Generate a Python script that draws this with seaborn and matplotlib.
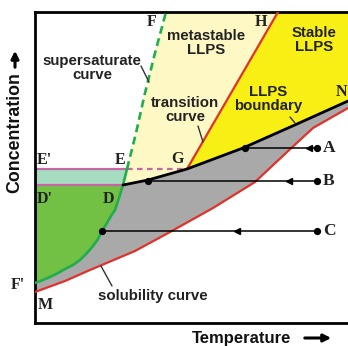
import numpy as np
import pandas as pd
import matplotlib
matplotlib.use("Agg")
import matplotlib.pyplot as plt
from matplotlib import font_manager
import seaborn as sns

# ---------------- data (T = temperature, C = concentration) -------------
green_T = [0, 8, 15, 23, 30, 38, 45, 52, 58, 63, 67, 72, 76, 80, 84, 88, 92]   # supersaturate curve (solid)
green_C = [40, 43, 46, 50, 54, 58, 63, 70, 77, 84, 92, 100, 107, 113, 125, 138, 154]
dash_T = [92, 101, 110, 120, 131]                              # supersaturate curve (dashed, E -> F)
dash_C = [154, 190, 230, 270, 311]
sol_T = [0, 30, 55, 100, 135, 178, 220, 252, 278, 313]        # solubility curve (M -> right)
sol_C = [31, 42, 53, 72, 91, 115, 141, 171, 195, 215]
bound_T = [88, 113, 152, 208, 262, 313]                        # LLPS boundary (D -> G -> N)
bound_C = [138, 143, 154, 175, 199, 222]
trans_T = [152, 243]                                           # transition curve (G -> H)
trans_C = [154, 311]
E_level = 154
D_level = 138
path_names = ["A", "B", "C"]
path_C = [175, 142, 92]
path_start_T = [210, 113, 67]
path_end_T = [282, 282, 282]
path_arrow_T = [274, 254, 202]
T_max, C_max = 313, 311

# ---------------- style -------------
sns.set_style("white")
names = {f.name for f in font_manager.fontManager.ttflist}
if "Liberation Sans Narrow" in names:
    SANS = ["Liberation Sans Narrow", "Liberation Sans", "DejaVu Sans"]
    lab_fs, ax_fs = 13.0, 14.5
else:
    SANS = ["Liberation Sans", "DejaVu Sans"]
    lab_fs, ax_fs = 10.8, 12.0
SERIF = ["Liberation Serif", "DejaVu Serif"]
plt.rcParams["font.family"] = SANS

RED = "#e0312a"
GREEN_LINE = "#1fae4b"
PINK = "#c766a4"
PALE_Y = "#fdf8c4"
BRIGHT_Y = "#f8ef14"
GREY = "#a9a9a9"
GREEN_FILL = "#72c044"
MINT = "#a6dcc0"

fig = plt.figure(figsize=(3.48, 3.46), dpi=100)
ax = fig.add_axes([35 / 348, 23 / 346, 313 / 348, 311 / 346])
ax.set_xlim(0, T_max)
ax.set_ylim(0, C_max)
ax.set_xticks([])
ax.set_yticks([])
for s in ["left", "top", "bottom"]:
    ax.spines[s].set_linewidth(2.0)
    ax.spines[s].set_color("black")
ax.spines["right"].set_visible(False)

gT, gC = np.array(green_T), np.array(green_C)
dT, dC = np.array(dash_T), np.array(dash_C)
sT, sC = np.array(sol_T), np.array(sol_C)
bT, bC = np.array(bound_T), np.array(bound_C)
iD = green_C.index(D_level)
iG = bound_T.index(trans_T[0])

# ---------------- region fills -------------
grey_x = np.concatenate([gT[:iD + 1], bT[1:], sT[::-1]])
grey_y = np.concatenate([gC[:iD + 1], bC[1:], sC[::-1]])
ax.fill(grey_x, grey_y, color=GREY, lw=0, zorder=1)

ax.fill(np.concatenate([gT[:iD + 1], [0]]), np.concatenate([gC[:iD + 1], [D_level]]),
        color=GREEN_FILL, lw=0, zorder=1)
ax.fill([0, gT[iD], gT[-1], 0], [D_level, D_level, E_level, E_level], color=MINT, lw=0, zorder=1)

pale_x = np.concatenate([gT[iD:], dT[1:], [trans_T[1], trans_T[0]], bT[:iG][::-1]])
pale_y = np.concatenate([gC[iD:], dC[1:], [trans_C[1], trans_C[0]], bC[:iG][::-1]])
ax.fill(pale_x, pale_y, color=PALE_Y, lw=0, zorder=1)

by_x = np.concatenate([[trans_T[0], trans_T[1], T_max], bT[iG:][::-1]])
by_y = np.concatenate([[trans_C[0], trans_C[1], C_max], bC[iG:][::-1]])
ax.fill(by_x, by_y, color=BRIGHT_Y, lw=0, zorder=1)

# ---------------- curves -------------
ax.plot([0, gT[-1]], [E_level, E_level], color=PINK, lw=1.6, zorder=2)
ax.plot([gT[-1], trans_T[0]], [E_level, E_level], color=PINK, lw=1.6, ls=(0, (2.5, 2)), zorder=2)
ax.plot([0, gT[iD]], [D_level, D_level], color=PINK, lw=1.6, zorder=2)

sns.lineplot(x=sol_T, y=sol_C, sort=False, estimator=None, color=RED, lw=1.6, ax=ax, zorder=3)
sns.lineplot(x=trans_T, y=trans_C, sort=False, estimator=None, color=RED, lw=1.6, ax=ax, zorder=3)
sns.lineplot(x=green_T, y=green_C, sort=False, estimator=None, color=GREEN_LINE, lw=1.9, ax=ax, zorder=3)
ax.plot(dash_T, dash_C, color=GREEN_LINE, lw=1.9, ls=(0, (3, 1.8)), zorder=3)
sns.lineplot(x=bound_T, y=bound_C, sort=False, estimator=None, color="black", lw=2.0, ax=ax, zorder=4)

# ---------------- cooling paths A, B, C -------------
for name, c, t0, t1, ta in zip(path_names, path_C, path_start_T, path_end_T, path_arrow_T):
    ax.plot([t0, t1], [c, c], color="black", lw=1.1, zorder=5)
    ax.plot([t0, t1], [c, c], ls="none", marker="o", ms=4.2, color="black", zorder=6)
    ax.plot([ta], [c], ls="none", marker="<", ms=5, color="black", zorder=6)
    ax.text(t1 + 6, c, name, family=SERIF, fontweight="bold", fontsize=12.5,
            ha="left", va="center", color="#222222", zorder=7, clip_on=False)

# ---------------- letters -------------
letters = [("F", 117, 301), ("H", 226, 301), ("G", 143, 164), ("E", 85, 163),
           ("E'", 2, 163), ("D'", 2, 124), ("D", 73, 124), ("M", 3, 18), ("N", 306, 231)]
for txt, x, y in letters:
    ha = "left" if txt in ("E'", "D'", "M") else "center"
    ax.text(x, y, txt, family=SERIF, fontweight="bold", fontsize=11.5, ha=ha, va="center",
            color="#222222", zorder=7)
ax.text(-17, 38, "F'", family=SERIF, fontweight="bold", fontsize=11.5, ha="center", va="center",
        color="#222222", clip_on=False)

# ---------------- region / curve labels -------------
labels = [("supersaturate\ncurve", 57, 255), ("metastable\nLLPS", 171, 280),
          ("Stable\nLLPS", 279, 283), ("transition\ncurve", 150, 213),
          ("LLPS\nboundary", 233, 224), ("solubility curve", 118, 27)]
for txt, x, y in labels:
    ax.text(x, y, txt, fontsize=lab_fs, fontweight="bold", ha="center", va="center",
            color="#222222", linespacing=0.95, zorder=7)

pointers = [((106, 257), (114, 241)), ((163, 197), (168, 181)),
            ((255, 206), (260, 200)), ((66, 57), (77, 37))]
for (x0, y0), (x1, y1) in pointers:
    ax.plot([x0, x1], [y0, y1], color="#333333", lw=1.0, zorder=6)

# ---------------- axis titles with arrows -------------
fig.text(192 / 348, 1 - 338 / 346, "Temperature", fontsize=ax_fs, fontweight="bold",
         ha="left", va="center", color="#111111")
fig.add_artist(matplotlib.patches.FancyArrowPatch((302 / 348, 1 - 338 / 346), (334 / 348, 1 - 338 / 346),
               transform=fig.transFigure, arrowstyle="-|>", mutation_scale=11, lw=2.2, color="black"))
fig.text(15 / 348, 1 - 193 / 346, "Concentration", fontsize=ax_fs + 0.8, fontweight="bold",
         rotation=90, ha="center", va="bottom", color="#111111")
fig.add_artist(matplotlib.patches.FancyArrowPatch((15 / 348, 1 - 70 / 346), (15 / 348, 1 - 48 / 346),
               transform=fig.transFigure, arrowstyle="-|>", mutation_scale=11, lw=2.2, color="black"))

fig.savefig("out.png", dpi=100, facecolor="white")
